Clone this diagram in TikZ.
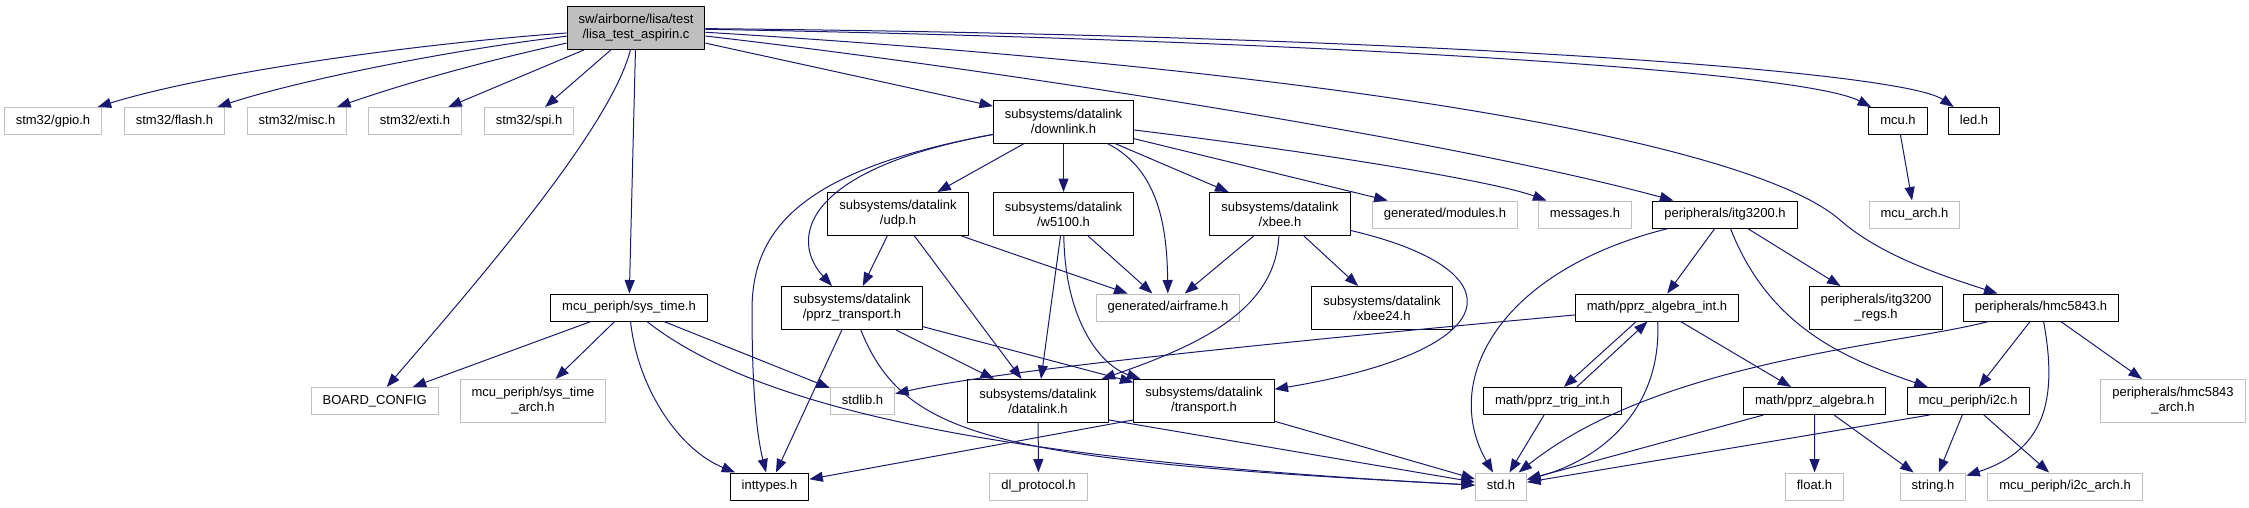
\documentclass[tikz,border=0pt]{standalone}
\usepackage{fontspec}
\setmainfont{Liberation Sans}
\usetikzlibrary{arrows.meta}
\definecolor{edgeblue}{HTML}{191970}
\definecolor{undoc}{HTML}{BFBFBF}

\begin{document}
\begin{tikzpicture}[x=1pt, y=-1pt, line join=round,
    hdr/.style={draw=black, line width=1pt, inner xsep=11.5pt,
      font=\fontsize{13}{15}\selectfont},
    one/.style={hdr, inner ysep=0pt, minimum height=27pt,
      text height=9.6pt, text depth=2.9pt},
    two/.style={hdr, inner ysep=0pt, minimum height=43pt, align=center},
    ext/.style={draw=undoc},
    dep/.style={draw=edgeblue, line width=1pt},
    >={Triangle[length=13.5pt, width=10pt]}]
  \useasboundingbox (0,0) rectangle (2249,507);

  % the test file and what it pulls in directly
  \node[two, fill=undoc] (root) at (636,28) {sw/airborne/lisa/test\\/lisa\_test\_aspirin.c};
  \node[one, ext] (gpio)  at (53,121)  {stm32/gpio.h};
  \node[one, ext] (flash) at (174.5,121) {stm32/flash.h};
  \node[one, ext] (misc)  at (297,121) {stm32/misc.h};
  \node[one, ext] (exti)  at (415,121) {stm32/exti.h};
  \node[one, ext] (spi)   at (529,121) {stm32/spi.h};
  \node[two] (downlink) at (1063.5,121.5) {subsystems/datalink\\/downlink.h};
  \node[one] (mcu) at (1898,121) {mcu.h};
  \node[one] (led) at (1974,121) {led.h};

  \node[two] (udp)   at (898,214)    {subsystems/datalink\\/udp.h};
  \node[two] (w5100) at (1063.5,214) {subsystems/datalink\\/w5100.h};
  \node[two] (xbee)  at (1280,214)   {subsystems/datalink\\/xbee.h};
  \node[one, ext] (modules)  at (1445,214.5) {generated/modules.h};
  \node[one, ext] (messages) at (1585,214.5) {messages.h};
  \node[one] (itg) at (1725,214.5) {peripherals/itg3200.h};
  \node[one, ext] (mcuarch) at (1914.5,214.5) {mcu\_arch.h};

  \node[one] (systime) at (629,307.5) {mcu\_periph/sys\_time.h};
  \node[two] (pprz) at (852,308) {subsystems/datalink\\/pprz\_transport.h};
  \node[one, ext] (airframe) at (1168,307.5) {generated/airframe.h};
  \node[two] (xbee24) at (1382,308) {subsystems/datalink\\/xbee24.h};
  \node[one] (pai) at (1657,307.5) {math/pprz\_algebra\_int.h};
  \node[two] (regs) at (1876,308) {peripherals/itg3200\\\_regs.h};
  \node[one] (hmc) at (2041,307.5) {peripherals/hmc5843.h};

  \node[one, ext] (board)  at (374.7,401) {BOARD\_CONFIG};
  \node[two, ext] (starch) at (533,401) {mcu\_periph/sys\_time\\\_arch.h};
  \node[one, ext] (stdlib) at (862.5,401) {stdlib.h};
  \node[two] (datalink)  at (1038,401) {subsystems/datalink\\/datalink.h};
  \node[two] (transport) at (1204,401) {subsystems/datalink\\/transport.h};
  \node[one] (trig) at (1552.5,401) {math/pprz\_trig\_int.h};
  \node[one] (alg)  at (1814.7,401) {math/pprz\_algebra.h};
  \node[one] (i2c)  at (1968,401) {mcu\_periph/i2c.h};
  \node[two, ext] (hmcarch) at (2173,401) {peripherals/hmc5843\\\_arch.h};

  \node[one] (inttypes) at (769.5,486.5) {inttypes.h};
  \node[one, ext] (dlproto) at (1038.5,486.5) {dl\_protocol.h};
  \node[one, ext] (std)     at (1501,486.5) {std.h};
  \node[one, ext] (float)   at (1814.5,486.5) {float.h};
  \node[one, ext] (string)  at (1933,486.5) {string.h};
  \node[one, ext] (i2carch) at (2065,486.5) {mcu\_periph/i2c\_arch.h};

  % includes of the test file
  \draw[->, dep] (root) .. controls (400,45) and (200,75) .. (gpio);
  \draw[->, dep] (root) .. controls (450,50) and (300,80) .. (flash);
  \draw[->, dep] (root) .. controls (480,62) and (400,85) .. (misc);
  \draw[->, dep] (root) -- (exti);
  \draw[->, dep] (root) -- (spi);
  \draw[->, dep] (root) .. controls (610,130) and (470,290) .. (board);
  \draw[->, dep] (root) -- (systime);
  \draw[->, dep] (root) -- (downlink);
  \draw[->, dep] (root) .. controls (1000,70) and (1450,140) .. (itg);
  \draw[->, dep] (root) .. controls (1300,40) and (1800,70) .. (mcu);
  \draw[->, dep] (root) .. controls (1400,35) and (1900,70) .. (led);
  \draw[->, dep] (root) .. controls (1400,75) and (1760,150) .. (1840,220)
      .. controls (1880,255) and (1940,275) .. (hmc);

  % downlink
  \draw[->, dep] (downlink) -- (udp);
  \draw[->, dep] (downlink) -- (w5100);
  \draw[->, dep] (downlink) -- (xbee);
  \draw[->, dep] (downlink) -- (modules);
  \draw[->, dep] (downlink) .. controls (1300,150) and (1490,180) .. (messages);
  \draw[->, dep] (downlink) .. controls (1160,170) and (1167,230) .. (airframe);
  \draw[->, dep] (downlink) .. controls (800,170) and (790,240) .. (pprz);
  \draw[->, dep] (downlink) .. controls (800,170) and (752,230) .. (752,310)
      .. controls (752,400) and (758,440) .. (inttypes);

  \draw[->, dep] (udp) -- (pprz);
  \draw[->, dep] (udp) -- (datalink);
  \draw[->, dep] (udp) -- (airframe);
  \draw[->, dep] (w5100) -- (datalink);
  \draw[->, dep] (w5100) -- (airframe);
  \draw[->, dep] (w5100) .. controls (1065,320) and (1100,365) .. (transport);
  \draw[->, dep] (xbee) -- (airframe);
  \draw[->, dep] (xbee) -- (xbee24);
  \draw[->, dep] (xbee) .. controls (1275,310) and (1200,345) .. (datalink);
  \draw[->, dep] (xbee) .. controls (1520,270) and (1510,350) .. (transport);

  % sys_time and transports
  \draw[->, dep] (systime) -- (board);
  \draw[->, dep] (systime) -- (starch);
  \draw[->, dep] (systime) .. controls (638,390) and (680,450) .. (inttypes);
  \draw[->, dep] (systime) -- (stdlib);
  \draw[->, dep] (systime) .. controls (760,410) and (1000,460) .. (std);
  \draw[->, dep] (pprz) -- (inttypes);
  \draw[->, dep] (pprz) -- (datalink);
  \draw[->, dep] (pprz) -- (transport);
  \draw[->, dep] (pprz) .. controls (905,440) and (1000,460) .. (std);
  \draw[->, dep] (datalink) -- (dlproto);
  \draw[->, dep] (datalink.345) -- (std);
  \draw[->, dep] (transport.195) -- (inttypes);
  \draw[->, dep] (transport) -- (std);

  % sensors and math
  \draw[->, dep] (itg) .. controls (1500,270) and (1440,380) .. (std);
  \draw[->, dep] (itg) -- (pai);
  \draw[->, dep] (itg) -- (regs);
  \draw[->, dep] (itg) .. controls (1770,330) and (1850,360) .. (i2c);
  \draw[->, dep] (pai) .. controls (1300,340) and (1000,370) .. (stdlib);
  \draw[->, dep] (pai.214) -- (trig.51);
  \draw[->, dep] (trig.30) -- (pai.236);
  \draw[->, dep] (pai) .. controls (1662,410) and (1600,460) .. (std);
  \draw[->, dep] (pai) -- (alg);
  \draw[->, dep] (trig) -- (std);
  \draw[->, dep] (alg) -- (std);
  \draw[->, dep] (alg) -- (float);
  \draw[->, dep] (alg) -- (string);
  \draw[->, dep] (hmc) .. controls (1900,345) and (1660,360) .. (std);
  \draw[->, dep] (hmc) -- (i2c);
  \draw[->, dep] (hmc) .. controls (2058,400) and (2045,450) .. (string);
  \draw[->, dep] (hmc) -- (hmcarch);
  \draw[->, dep] (i2c.200) -- (std);
  \draw[->, dep] (i2c) -- (string);
  \draw[->, dep] (i2c) -- (i2carch);
  \draw[->, dep] (mcu) -- (mcuarch);
\end{tikzpicture}
\end{document}
